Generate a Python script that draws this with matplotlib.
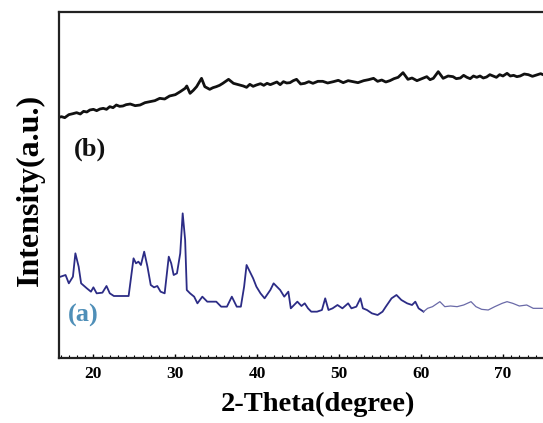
import matplotlib
matplotlib.use('Agg')
import matplotlib.pyplot as plt
from matplotlib.ticker import MultipleLocator

# Curva (a): 2-theta e intensidade (u.a.)
theta_a = [16.0, 16.6, 17.0, 17.5, 17.8, 18.2, 18.5, 19.2, 19.7, 20.0,
           20.4, 21.1, 21.6, 22.0, 22.5, 23.4, 24.3, 24.9, 25.2, 25.5,
           25.8, 26.2, 26.6, 27.0, 27.4, 27.8, 28.2, 28.7, 29.2, 29.5,
           29.8, 30.2, 30.6, 30.9, 31.2, 31.4, 31.8, 32.3, 32.7, 33.3,
           33.9, 34.4, 35.0, 35.6, 36.3, 36.9, 37.5, 38.0, 38.4, 38.7,
           39.0, 39.5, 39.9, 40.4, 40.9, 41.6, 42.0, 42.4, 42.8, 43.3,
           43.8, 44.1, 44.5, 44.9, 45.4, 45.8, 46.2, 46.6, 47.3, 47.9,
           48.3, 48.7, 49.2, 49.8, 50.4, 51.1, 51.5, 52.1, 52.6, 52.9,
           53.4, 54.0, 54.7, 55.3, 55.7, 56.4, 57.0, 57.6, 58.3, 58.9,
           59.3, 59.7, 60.3]
int_a = [244, 249, 224, 244, 314, 274, 224, 209, 199, 212,
         194, 196, 216, 194, 186, 186, 186, 299, 284, 289,
         279, 319, 274, 219, 212, 216, 199, 194, 304, 284,
         249, 254, 314, 434, 354, 204, 194, 184, 164, 184,
         169, 169, 169, 154, 154, 184, 154, 154, 214, 279,
         264, 239, 214, 194, 179, 204, 224, 214, 204, 184,
         199, 149, 159, 169, 156, 164, 149, 139, 139, 144,
         179, 144, 149, 159, 149, 164, 149, 154, 179, 149,
         144, 134, 129, 139, 154, 179, 189, 174, 164, 159,
         169, 149, 139]

# Parte final da curva (a), traço mais fraco
theta_a2 = [60.3, 60.8, 61.4, 62.3, 62.9, 63.6, 64.4, 65.2, 66.1, 66.7,
            67.4, 68.2, 69.0, 69.9, 70.5, 71.2, 72.0, 72.9, 73.7, 74.8]
int_a2 = [139, 149, 154, 169, 154, 156, 154, 159, 169, 154,
          146, 144, 154, 164, 169, 164, 156, 159, 149, 149]

# Curva (b)
theta_b = [15.8, 16.1, 16.5, 17.0, 17.5, 17.95, 18.4, 18.8, 19.2, 19.57,
           20.0, 20.4, 20.8, 21.2, 21.6, 22.0, 22.4, 22.8, 23.2, 23.6,
           24.0, 24.5, 25.1, 25.7, 26.3, 26.9, 27.5, 28.1, 28.7, 29.3,
           30.0, 30.6, 31.2, 31.4, 31.8, 32.2, 32.6, 33.2, 33.6, 34.2,
           34.6, 35.0, 35.4, 35.8, 36.5, 37.1, 37.7, 38.3, 38.7, 39.1,
           39.5, 39.9, 40.4, 40.8, 41.2, 41.6, 42.0, 42.4, 42.8, 43.2,
           43.6, 44.0, 44.4, 44.8, 45.3, 45.8, 46.3, 46.8, 47.4, 48.0,
           48.6, 49.3, 49.9, 50.5, 51.1, 51.7, 52.3, 53.0, 53.6, 54.2,
           54.7, 55.2, 55.7, 56.2, 56.7, 57.2, 57.8, 58.4, 58.9, 59.5,
           60.1, 60.7, 61.1, 61.5, 62.1, 62.7, 63.3, 63.9, 64.3, 64.8,
           65.2, 65.6, 66.0, 66.4, 66.8, 67.2, 67.6, 68.0, 68.4, 68.8,
           69.2, 69.6, 70.0, 70.5, 70.9, 71.3, 71.7, 72.1, 72.6, 73.1,
           73.6, 74.1, 74.6, 75.0]
int_b = [722, 724, 721, 730, 733, 736, 732, 740, 738, 744,
         746, 742, 747, 749, 746, 754, 751, 759, 755, 756,
         760, 762, 757, 759, 766, 769, 772, 779, 777, 786,
         790, 799, 809, 816, 794, 803, 814, 839, 814, 806,
         811, 814, 818, 824, 836, 824, 820, 816, 812, 821,
         815, 819, 823, 818, 824, 820, 824, 828, 820, 829,
         825, 826, 832, 836, 822, 824, 829, 824, 830, 830,
         825, 829, 833, 826, 832, 829, 826, 832, 835, 839,
         830, 834, 828, 832, 838, 842, 856, 836, 840, 832,
         838, 844, 835, 839, 859, 839, 846, 844, 838, 840,
         848, 842, 838, 846, 842, 846, 840, 843, 850, 846,
         842, 850, 846, 854, 846, 848, 844, 846, 852, 850,
         845, 849, 853, 849]

fig = plt.figure(figsize=(5.43, 4.23), dpi=100)
ax = fig.add_axes([59 / 543, 1 - 358 / 423, 489 / 543, 346 / 423])

ax.plot(theta_a, int_a, color='#2c2c86', linewidth=1.3)
ax.plot(theta_a2, int_a2, color='#6a6aa8', linewidth=0.9)
ax.plot(theta_b, int_b, color='#111111', linewidth=2.0)

ax.set_xlim(15.8, 75.5)
ax.set_ylim(0, 1038)

fonte = 'Liberation Serif'
ax.text(18.8, 129, '(a)', color='#4f8fb8', fontsize=19,
        fontweight='bold', family=fonte, ha='center', va='center')
ax.text(19.6, 627, '(b)', color='#111111', fontsize=19,
        fontweight='bold', family=fonte, ha='center', va='center')

ax.set_xlabel('2-Theta(degree)', fontsize=20.5, fontweight='bold', family=fonte)
ax.set_ylabel('Intensity(a.u.)', fontsize=23, fontweight='bold', family=fonte)
ax.xaxis.set_label_coords((318 - 59) / 489, -34 / 346)
ax.yaxis.set_label_coords(-(59 - 45) / 489, (358 - 190) / 346)

ax.set_xticks([20, 30, 40, 50, 60, 70])
ax.xaxis.set_minor_locator(MultipleLocator(1))
ax.set_yticks([])
ax.tick_params(axis='x', which='major', direction='in', length=3, width=1,
               labelsize=12.5, pad=6)
ax.tick_params(axis='x', which='minor', direction='in', length=2, width=0.8)
for lab in ax.get_xticklabels():
    lab.set_fontweight('bold')
    lab.set_family(fonte)

for s in ax.spines.values():
    s.set_linewidth(1.6)
    s.set_color('#222222')

fig.savefig('out.png', dpi=100)
